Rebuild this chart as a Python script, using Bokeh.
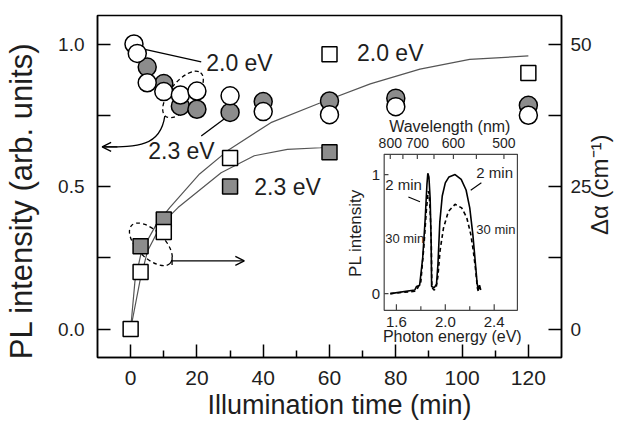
import math
from bokeh.plotting import figure
from bokeh.models import (Range1d, LinearAxis, FixedTicker, Label, Arrow, OpenHead,
                          TeeHead, NumeralTickFormatter)
from bokeh.core.properties import value
from bokeh.embed import file_html
from bokeh.resources import INLINE

FONT = "Liberation Sans"
INK = "#1e1e1e"
GREY = "#8c8c8c"

# ---------------- data ----------------
# PL intensity, open circles = 2.0 eV, filled circles = 2.3 eV
time_pl_20 = [1, 2, 5, 10, 15, 20, 30, 40, 60, 80, 120]
pl_20 = [1.0, 0.967, 0.864, 0.833, 0.821, 0.835, 0.818, 0.763, 0.752, 0.780, 0.750]
time_pl_23 = [5, 10, 15, 20, 30, 40, 60, 80, 120]
pl_23 = [0.919, 0.861, 0.782, 0.771, 0.760, 0.798, 0.800, 0.810, 0.785]

# delta alpha (cm-1), open squares = 2.0 eV, filled squares = 2.3 eV
time_da_20 = [0, 3, 10, 30, 60, 120]
da_20 = [0.0, 10.0, 17.0, 30.0, 48.2, 44.9]
time_da_23 = [3, 10, 30, 60]
da_23 = [14.5, 19.2, 25.0, 31.0]

# fitted curves (cm-1)
fit_20_t = [0, 1.3, 3.3, 7.8, 11.8, 20.8, 29.3, 42.3, 57.3, 72.3, 87.3, 102.3, 120]
fit_20_da = [0.0, 8.4, 13.7, 18.4, 21.3, 27.2, 31.3, 36.2, 39.7, 43.0, 45.6, 47.3, 47.9]
fit_23_t = [0, 2.8, 5.1, 9.3, 14.3, 27.3, 37.3, 47.3, 57.3, 60]
fit_23_da = [0.0, 8.4, 13.7, 18.4, 21.3, 27.4, 30.4, 31.5, 31.8, 31.9]

x_ticks = [0, 20, 40, 60, 80, 100, 120]
x_minor = [10, 30, 50, 70, 90, 110]
pl_ticks = [0.0, 0.5, 1.0]
pl_minor = [0.25, 0.75]
da_ticks = [0, 25, 50]
da_minor = [12.5, 37.5]

x_title = "Illumination time (min)"
y_title = "PL intensity (arb. units)"
y2_title = "Δα (cm⁻¹)"

# inset spectra
energy_2min = [1.55, 1.75, 1.765, 1.79, 1.815, 1.835, 1.85, 1.857, 1.866, 1.876, 1.884,
               1.888, 1.91, 1.928, 1.94, 1.955, 1.975, 2.0, 2.03, 2.08, 2.13, 2.17, 2.2,
               2.225, 2.245, 2.26, 2.27, 2.28, 2.29]
pl_2min = [0.0, 0.03, 0.06, 0.07, 0.30, 0.62, 0.92, 1.01, 0.98, 0.80, 0.45, 0.06, 0.05,
           0.08, 0.25, 0.60, 0.82, 0.93, 0.98, 1.0, 0.96, 0.87, 0.72, 0.50, 0.27, 0.09,
           0.03, 0.07, 0.03]
energy_30min = [1.55, 1.75, 1.77, 1.80, 1.825, 1.845, 1.86, 1.868, 1.878, 1.886, 1.89,
                1.91, 1.925, 1.94, 1.957, 1.985, 2.025, 2.08, 2.134, 2.175, 2.208, 2.229,
                2.249, 2.262, 2.27]
pl_30min = [0.0, 0.02, 0.04, 0.10, 0.40, 0.70, 0.86, 0.84, 0.65, 0.40, 0.05, 0.03, 0.05,
            0.15, 0.36, 0.55, 0.69, 0.75, 0.72, 0.64, 0.50, 0.36, 0.19, 0.05, 0.02]
energy_ticks = [1.6, 2.0, 2.4]
energy_tick_labels = ["1.6", "2.0", "2.4"]
energy_minor = [1.8, 2.2]
inset_y_ticks = [0, 1]
inset_y_labels = ["0", "1"]
wl_label_values = [800, 700, 600, 500]
wl_tick_values = [800, 750, 700, 650, 600, 550, 500]

# ---------------- figure ----------------
p = figure(width=629, height=427, x_range=Range1d(-10, 130), y_range=Range1d(-0.1, 1.1),
           output_backend="svg", toolbar_location=None,
           min_border_left=96, min_border_right=66, min_border_top=15, min_border_bottom=70)
p.extra_y_ranges = {"da": Range1d(-5, 55)}
p.grid.visible = False
p.outline_line_color = "black"
p.outline_line_width = 1.5
p.border_fill_color = "white"


def style_axis(ax, size):
    ax.axis_line_width = 1.5
    ax.axis_line_color = "black"
    ax.major_tick_line_color = "black"
    ax.minor_tick_line_color = "black"
    ax.major_tick_line_width = 1.5
    ax.minor_tick_line_width = 1.5
    ax.major_tick_out = 0
    ax.minor_tick_out = 0
    ax.major_label_text_font = FONT
    ax.major_label_text_font_size = size
    ax.major_label_text_color = INK


def title_axis(ax, tick, text, size, orientation, standoff):
    # an axis that only carries the (precisely placed) axis title
    ax.ticker = FixedTicker(ticks=[tick], minor_ticks=[])
    ax.major_label_overrides = {tick: text}
    ax.axis_line_color = None
    ax.major_tick_line_color = None
    ax.minor_tick_line_color = None
    ax.major_tick_in = 0
    ax.major_tick_out = 0
    ax.minor_tick_in = 0
    ax.minor_tick_out = 0
    ax.major_label_text_font = FONT
    ax.major_label_text_font_size = size
    ax.major_label_text_color = INK
    ax.major_label_orientation = orientation
    ax.major_label_standoff = standoff


xa = p.xaxis[0]
xa.ticker = FixedTicker(ticks=x_ticks, minor_ticks=x_minor)
style_axis(xa, "21px")
xa.major_tick_in = 13
xa.minor_tick_in = 7
xa.major_label_standoff = 13

ya = p.yaxis[0]
ya.ticker = FixedTicker(ticks=pl_ticks, minor_ticks=pl_minor)
ya.formatter = NumeralTickFormatter(format="0.0")
style_axis(ya, "19px")
ya.major_tick_in = 13
ya.minor_tick_in = 13
ya.major_label_standoff = 13

ra = LinearAxis(y_range_name="da", ticker=FixedTicker(ticks=da_ticks, minor_ticks=da_minor),
                formatter=NumeralTickFormatter(format="0"))
style_axis(ra, "19px")
ra.major_tick_in = 13
ra.minor_tick_in = 13
ra.major_label_standoff = 9
p.add_layout(ra, "right")

# axis titles, carried by label-only axes so that they sit where the reference has them
xt = LinearAxis()
title_axis(xt, 63, x_title, "27px", "horizontal", 2)
p.add_layout(xt, "below")
yt = LinearAxis()
title_axis(yt, 0.45, y_title, "31px", "parallel", 17)
p.add_layout(yt, "left")
rt = LinearAxis(y_range_name="da")
title_axis(rt, 16.5, y2_title, "24px", math.pi / 2, 5)
rt.major_label_text_baseline = "top"
p.add_layout(rt, "right")

# fitted curves
p.line(fit_20_t, fit_20_da, y_range_name="da", line_color="#555555", line_width=1.2)
p.line(fit_23_t, fit_23_da, y_range_name="da", line_color="#555555", line_width=1.2)

# dashed ellipses
p.ellipse(x=[15.8], y=[0.823], width=56, height=26, angle=0.89, width_units="screen",
          height_units="screen", fill_color=None, line_color="black", line_dash="4 3",
          line_width=1.3)
p.ellipse(x=[6.1], y=[0.297], width=54, height=27, angle=-0.78, width_units="screen",
          height_units="screen", fill_color=None, line_color="black", line_dash="4 3",
          line_width=1.3)

# squares (delta alpha)
p.scatter(time_da_23, da_23, y_range_name="da", marker="square", size=15,
          fill_color=GREY, line_color="black", line_width=1.5)
p.scatter(time_da_20, da_20, y_range_name="da", marker="square", size=15,
          fill_color="white", line_color="black", line_width=1.5)

# circles (PL)
p.scatter(time_pl_23, pl_23, marker="circle", size=18, fill_color=GREY,
          line_color="black", line_width=1.5)
p.scatter(time_pl_20, pl_20, marker="circle", size=18, fill_color="white",
          line_color="black", line_width=1.5)

# leader lines for the labels
p.segment(x0=[4.3, 21.3], y0=[0.981, 0.677], x1=[21.3, 28.3], y1=[0.937, 0.738],
          line_color="black", line_width=1.3)

# curved arrow to left axis
p.bezier(x0=[10.3], y0=[0.747], x1=[-8.0], y1=[0.639], cx0=[9.0], cy0=[0.64],
         cx1=[2.0], cy1=[0.639], line_color="black", line_width=1.3)
p.add_layout(Arrow(end=OpenHead(size=9, line_width=1.3, line_color="black"),
                   x_start=-4.0, y_start=0.639, x_end=-8.6, y_end=0.639,
                   line_width=1.3, line_color="black"))
# straight arrow to right axis
p.add_layout(Arrow(start=TeeHead(size=8, line_width=1.3, line_color="black"),
                   end=OpenHead(size=9, line_width=1.3, line_color="black"),
                   x_start=12.5, y_start=0.239, x_end=34.3, y_end=0.239,
                   line_width=1.3, line_color="black"))


def add_label(x, y, text, size, **kw):
    p.add_layout(Label(x=x, y=y, text=text, text_font=FONT, text_font_size=size,
                       text_color=INK, **kw))


add_label(22.8, 0.934, "2.0 eV", "23px", text_baseline="middle")
add_label(5.3, 0.625, "2.3 eV", "23px", text_baseline="middle")
add_label(68.3, 0.967, "2.0 eV", "23px", text_baseline="middle")
add_label(37.3, 0.499, "2.3 eV", "23px", text_baseline="middle")

# ---------------- inset ----------------
EX0, EX1 = 1.5, 2.59
IY0, IY1 = -0.14, 1.17
ins = p.subplot(x_source=Range1d(EX0, EX1), y_source=Range1d(IY0, IY1),
                x_target=Range1d(76.5, 116.7), y_target=Range1d(0.0656, 0.613))

ins.quad(left=[EX0], right=[EX1], bottom=[IY0], top=[IY1], fill_color="white",
         line_color="#444444", line_width=1.2)

tick_e = energy_ticks + energy_minor
ins.segment(x0=tick_e, y0=[IY0] * len(tick_e), x1=tick_e,
            y1=[IY0 + 0.05] * len(energy_ticks) + [IY0 + 0.035] * len(energy_minor),
            line_color="#444444", line_width=1.2)
wl_e = [1239.84 / w for w in wl_tick_values]
ins.segment(x0=wl_e, y0=[IY1] * len(wl_e), x1=wl_e, y1=[IY1 - 0.04] * len(wl_e),
            line_color="#444444", line_width=1.2)
ins.segment(x0=[EX0] * 2, y0=inset_y_ticks, x1=[EX0 + 0.035] * 2, y1=inset_y_ticks,
            line_color="#444444", line_width=1.2)

ins.line(energy_30min, pl_30min, line_color="black", line_width=1.6, line_dash="4 3")
ins.line(energy_2min, pl_2min, line_color="black", line_width=1.6)

TXT = dict(text_font=value(FONT), text_color=INK)
ins.text(x=energy_ticks, y=[-0.236] * 3, text=energy_tick_labels, text_font_size="15px",
         text_align="center", text_baseline="middle", **TXT)
ins.text(x=[1239.84 / w for w in wl_label_values], y=[1.267] * 4,
         text=[str(w) for w in wl_label_values], text_font_size="14px",
         text_align="center", text_baseline="middle", **TXT)
ins.text(x=[1.467] * 2, y=inset_y_ticks, text=inset_y_labels, text_font_size="15px",
         text_align="right", text_baseline="middle", **TXT)
ins.text(x=[2.037], y=[1.407], text=["Wavelength (nm)"], text_font_size="16px",
         text_align="center", text_baseline="middle", **TXT)
ins.text(x=[2.057], y=[-0.356], text=["Photon energy (eV)"], text_font_size="16px",
         text_align="center", text_baseline="middle", **TXT)
ins.text(x=[1.264], y=[0.509], text=["PL intensity"], text_font_size="17px",
         text_align="center", text_baseline="middle", angle=math.pi / 2, **TXT)
ins.text(x=[1.508, 2.254], y=[0.918, 1.015], text=["2 min", "2 min"], text_font_size="15px",
         text_align="left", text_baseline="middle", **TXT)
ins.text(x=[1.508, 2.254], y=[0.461, 0.540], text=["30 min", "30 min"],
         text_font_size="13px", text_align="left", text_baseline="middle", **TXT)
ins.segment(x0=[1.698, 2.295], y0=[0.811, 0.931], x1=[1.793, 2.208], y1=[0.772, 0.868],
            line_color="black", line_width=1.1)

open("out.html", "w").write(file_html(p, INLINE))
